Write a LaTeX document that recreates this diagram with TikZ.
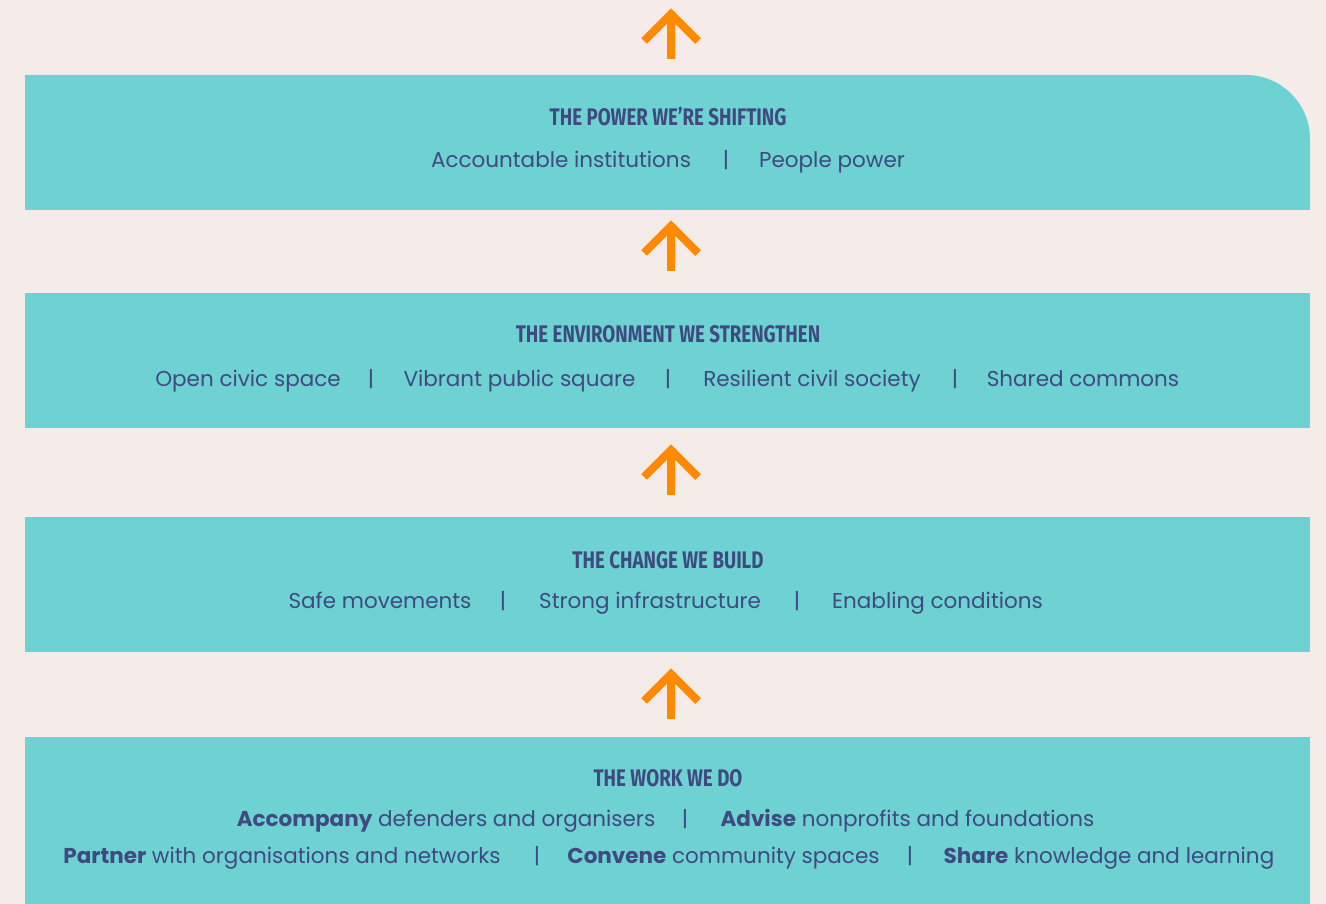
\documentclass[tikz,border=0pt]{standalone}
\usepackage{fontspec}
\setmainfont{Poppins}
\newfontfamily\titlefont[FakeStretch=0.78]{Fira Sans}
\definecolor{bg}{HTML}{F5ECE9}
\definecolor{teal}{HTML}{6FD2D2}
\definecolor{navy}{HTML}{3E4A80}
\definecolor{orng}{HTML}{FF8A00}
\tikzset{
  band/.style={fill=teal, draw=none},
  ttl/.style={text=navy, font=\titlefont\bfseries\fontsize{24}{28}\selectfont, inner sep=0pt, anchor=base},
  itm/.style={text=navy, font=\fontsize{21.5}{25}\selectfont, inner sep=0pt, anchor=base},
  sep/.style={itm},
  pics/uparrow/.style={code={
    \draw[orng, line width=8pt, line cap=butt, line join=miter]
      (0,46) -- (0,0) (-27,28) -- (0,1) -- (27,28);
  }}
}
\begin{document}
\begin{tikzpicture}[x=1pt, y=-1pt]
\useasboundingbox (0,0) rectangle (1326,904);
\fill[bg] (0,0) rectangle (1326,904);
% bands
\fill[band] (25,75) -- (1246,75) arc[start angle=90, end angle=0, x radius=64, y radius=-64] -- (1310,210) -- (25,210) -- cycle;
\fill[band] (25,293) rectangle (1310,428);
\fill[band] (25,517) rectangle (1310,652);
\fill[band] (25,737) rectangle (1310,904);
% arrows
\coordinate (a1) at (671,13);
\coordinate (a2) at (671,225);
\coordinate (a3) at (671,449);
\coordinate (a4) at (671,673);
\pic at (a1) {uparrow};
\pic at (a2) {uparrow};
\pic at (a3) {uparrow};
\pic at (a4) {uparrow};
% box 1
\node[ttl] (t1) at (668,126) {THE POWER WE’RE SHIFTING};
\node[itm] (p1) at (561,168) {Accountable institutions};
\node[sep] (s11) at (726,168) {|};
\node[itm] (p2) at (832,168) {People power};
% box 2
\node[ttl] (t2) at (668,342) {THE ENVIRONMENT WE STRENGTHEN};
\node[itm] (e1) at (248,386) {Open civic space};
\node[sep] (s21) at (371,386) {|};
\node[itm] (e2) at (519.5,386) {Vibrant public square};
\node[sep] (s22) at (668,386) {|};
\node[itm] (e3) at (812,386) {Resilient civil society};
\node[sep] (s23) at (955,386) {|};
\node[itm] (e4) at (1083,386) {Shared commons};
% box 3
\node[ttl] (t3) at (668,568) {THE CHANGE WE BUILD};
\node[itm] (c1) at (380,608) {Safe movements};
\node[sep] (s31) at (503,608) {|};
\node[itm] (c2) at (650,608) {Strong infrastructure};
\node[sep] (s32) at (797,608) {|};
\node[itm] (c3) at (937.5,608) {Enabling conditions};
% box 4
\node[ttl] (t4) at (668,786) {THE WORK WE DO};
\node[itm] (w1) at (446,826) {\textbf{Accompany} defenders and organisers};
\node[sep] (s41) at (685,826) {|};
\node[itm] (w2) at (907.5,826) {\textbf{Advise} nonprofits and foundations};
\node[itm] (w3) at (282,863) {\textbf{Partner} with organisations and networks};
\node[sep] (s42) at (537,863) {|};
\node[itm] (w4) at (723.5,863) {\textbf{Convene} community spaces};
\node[sep] (s43) at (910,863) {|};
\node[itm] (w5) at (1109,863) {\textbf{Share} knowledge and learning};
\end{tikzpicture}
\end{document}
